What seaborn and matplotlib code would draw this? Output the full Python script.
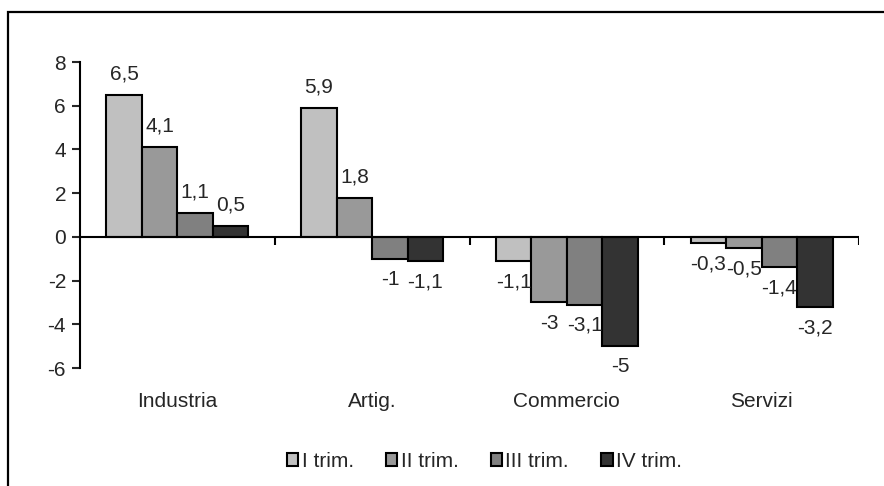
import numpy as np
import pandas as pd
import matplotlib
matplotlib.use("Agg")
import matplotlib.pyplot as plt
import seaborn as sns
from matplotlib.patches import Rectangle

categories = ["Industria", "Artig.", "Commercio", "Servizi"]
quarters = ["I trim.", "II trim.", "III trim.", "IV trim."]
q1 = [6.5, 5.9, -1.1, -0.3]
q2 = [4.1, 1.8, -3.0, -0.5]
q3 = [1.1, -1.0, -3.1, -1.4]
q4 = [0.5, -1.1, -5.0, -3.2]
colors = ["#c0c0c0", "#999999", "#808080", "#333333"]

rows = []
for q, vals in zip(quarters, [q1, q2, q3, q4]):
    for c, v in zip(categories, vals):
        rows.append({"Settore": c, "Trimestre": q, "Valore": v})
df = pd.DataFrame(rows)

sns.set_style("white")
plt.rcParams["font.family"] = ["Liberation Sans", "DejaVu Sans"]
fs = 15

fig = plt.figure(figsize=(8.84, 4.86), dpi=100)
ax = fig.add_axes([80 / 884, 1 - 368 / 486, (859 - 80) / 884, (368 - 62) / 486])

sns.barplot(data=df, x="Settore", y="Valore", hue="Trimestre", order=categories,
            hue_order=quarters, palette=colors, width=0.73, edgecolor="black",
            linewidth=1.5, saturation=1, ax=ax, legend=True, errorbar=None)

ax.set_ylim(-6, 8)
ax.set_xlim(-0.5, len(categories) - 0.5)
ax.set_yticks(np.arange(-6, 9, 2))
ax.set_yticklabels([str(t) for t in np.arange(-6, 9, 2)], fontsize=fs)
ax.set_xlabel("")
ax.set_ylabel("")
for s in ["top", "right", "bottom"]:
    ax.spines[s].set_visible(False)
ax.spines["left"].set_linewidth(1.5)
ax.spines["left"].set_color("black")
ax.tick_params(axis="y", direction="out", length=6, width=1.5, pad=4, left=True)
ax.tick_params(axis="x", length=0, pad=17, labelsize=fs)
ax.axhline(0, color="black", lw=1.5, zorder=5)
ax.vlines(np.arange(len(categories)) + 0.5, -0.35, 0, color="black", lw=1.5)

# data labels
for cont in ax.containers:
    for bar in cont:
        v = bar.get_height()
        x = bar.get_x() + bar.get_width() / 2
        label = f"{v:g}".replace(".", ",")
        off = 15 if v >= 0 else -15
        ax.annotate(label, (x, v), xytext=(0, off), textcoords="offset points",
                    ha="center", va="center", fontsize=fs)

handles, labels = ax.get_legend_handles_labels()
ax.get_legend().remove()
fig.legend(handles, labels, loc="center", bbox_to_anchor=(0.548, 0.051), ncol=4,
           frameon=False, fontsize=fs, handlelength=0.55, handleheight=0.55,
           handletextpad=0.15, columnspacing=1.55)

fig.add_artist(Rectangle((8 / 884, -0.2), 1.2, 1 - 12 / 486 + 0.2, fill=False,
                         edgecolor="black", lw=1.6, transform=fig.transFigure))

fig.savefig("out.png", dpi=100)
